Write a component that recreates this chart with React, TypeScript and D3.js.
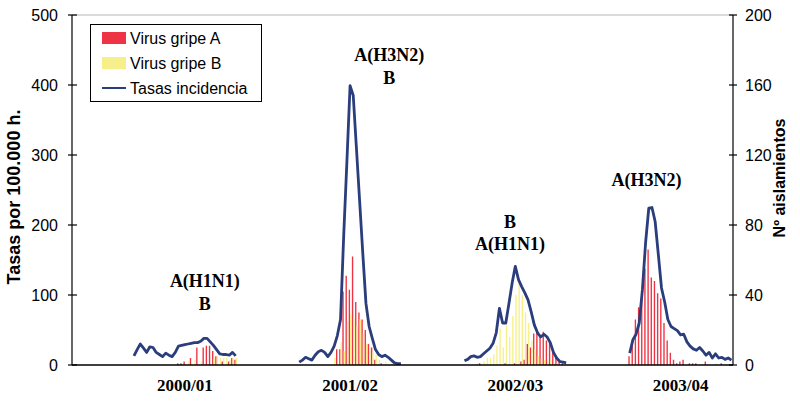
import * as d3 from 'd3';

// flu seasons, weekly data from week 40 to week 20
const seasons = ['2000/01', '2001/02', '2002/03', '2003/04'];
const seasonWeeks = [40, 41, 42, 43, 44, 45, 46, 47, 48, 49, 50, 51, 52, 1, 2, 3, 4, 5, 6, 7, 8, 9, 10, 11, 12, 13, 14, 15, 16, 17, 18, 19, 20];
const offWeeks = [21, 22, 23, 24, 25, 26, 27, 28, 29, 30, 31, 32, 33, 34, 35, 36, 37, 38, 39];

// Tasas por 100.000 h.
const rate0001 = [13, 22, 30, 24, 18, 26, 25, 18, 15, 12, 17, 14, 12, 18, 27, 28, 29, 30, 31, 32, 32, 34, 38, 38, 33, 28, 22, 16, 15, 15, 14, 18, 13];
const rate0102 = [4, 7, 11, 9, 7, 14, 19, 21, 18, 12, 18, 27, 42, 65, 185, 290, 399, 385, 310, 235, 160, 88, 55, 38, 22, 15, 12, 14, 11, 7, 3, 2, 2];
const rate0203 = [6, 8, 12, 13, 11, 12, 16, 20, 24, 31, 46, 81, 60, 60, 88, 117, 141, 122, 112, 103, 93, 76, 57, 46, 40, 44, 40, 32, 18, 10, 5, 4, 3];
const rate0304 = [17, 36, 44, 60, 108, 175, 224, 225, 205, 158, 110, 90, 65, 55, 52, 49, 43, 44, 33, 27, 23, 21, 25, 20, 14, 18, 10, 16, 10, 11, 8, 10, 7];

// Nº aislamientos, virus gripe A
const virA0001 = [0, 0, 0, 0, 0, 0, 0, 0, 0, 0, 0, 0, 0, 0, 1, 1, 2, 0, 4, 0, 10, 0, 10, 11, 11, 8, 5, 0, 2, 0, 2, 4, 3];
const virA0102 = [0, 0, 0, 0, 0, 0, 0, 0, 0, 0, 0, 0, 9, 9, 42, 51, 43, 62, 36, 30, 26, 20, 12, 10, 3, 0, 1, 0, 0, 0, 0, 0, 0];
const virA0203 = [0, 0, 0, 0, 0, 1, 0, 0, 0, 0, 0, 0, 0, 1, 0, 0, 1, 0, 2, 3, 12, 10, 18, 19, 16, 19, 14, 13, 7, 4, 2, 1, 0];
const virA0304 = [5, 14, 26, 33, 42, 55, 66, 50, 48, 41, 38, 24, 14, 7, 3, 1, 2, 3, 0, 1, 1, 1, 0, 0, 2, 0, 0, 0, 0, 1, 0, 0, 0];

// Nº aislamientos, virus gripe B
const virB0001 = [0, 0, 0, 0, 0, 0, 0, 0, 0, 0, 0, 0, 0, 0, 0, 0, 0, 2, 0, 3, 0, 2, 0, 0, 0, 4, 5, 4, 4, 4, 3, 4, 4];
const virB0102 = [0, 0, 0, 0, 0, 0, 0, 0, 0, 0, 0, 4, 0, 13, 8, 25, 29, 27, 22, 26, 18, 12, 10, 7, 6, 3, 0, 2, 0, 3, 0, 0, 0];
const virB0203 = [0, 0, 0, 0, 1, 0, 2, 4, 4, 6, 11, 21, 10, 23, 16, 28, 40, 47, 40, 30, 24, 14, 9, 5, 4, 3, 2, 3, 1, 1, 0, 0, 0];
const virB0304 = [0, 0, 0, 0, 0, 0, 0, 0, 0, 0, 0, 0, 0, 0, 0, 0, 0, 0, 0, 0, 0, 0, 0, 0, 0, 0, 0, 1, 0, 0, 0, 0, 0];

const rates = [rate0001, rate0102, rate0203, rate0304];
const virusA = [virA0001, virA0102, virA0203, virA0304];
const virusB = [virB0001, virB0102, virB0203, virB0304];

// circulating strains written over each epidemic
const strains = [['A(H1N1)', 'B'], ['A(H3N2)', 'B'], ['B', 'A(H1N1)'], ['A(H3N2)']];
const strainWeek = [10, 16, 2, 45];
const strainTop = [111, 434, 196, 256];

const legendLabels = ['Virus gripe A', 'Virus gripe B', 'Tasas incidencia'];

const W = 800, H = 404;
const left = 72, right = 733, top = 15, bottom = 365;
const RED = '#ee3344';
const YELLOW = '#f7f08a';
const NAVY = '#2a3d7c';
const SANS = 'Arial, "Liberation Sans", sans-serif';
const SERIF = '"Times New Roman", "Liberation Serif", serif';

const key = (si: number, w: number) => `${si}:${w}`;

const App = () => {
    const categories = seasons.flatMap((_, si) => offWeeks.concat(seasonWeeks).map(w => key(si, w)));

    const x = d3.scaleBand<string>().domain(categories).range([left, right]).paddingInner(0.14).paddingOuter(0.07);
    const xs = d3.scaleBand<string>().domain(['A', 'B']).range([0, x.bandwidth()]);
    const yL = d3.scaleLinear().domain([0, 500]).range([bottom, top]);
    const yR = d3.scaleLinear().domain([0, 200]).range([bottom, top]);
    const cx = (si: number, w: number) => (x(key(si, w)) ?? 0) + x.bandwidth() / 2;

    const lines = rates.map((r, si) =>
        d3.line<number>()
            .x((_, i) => cx(si, seasonWeeks[i]))
            .y(d => yL(d))(r) || ''
    );

    const bars = seasons.flatMap((_, si) =>
        seasonWeeks.flatMap((w, i) => {
            const x0 = x(key(si, w)) ?? 0;
            const out = [];
            if (virusA[si][i] > 0) out.push(
                <rect key={`a${si}-${w}`} x={x0 + (xs('A') ?? 0)} width={xs.bandwidth()}
                    y={yR(virusA[si][i])} height={bottom - yR(virusA[si][i])} fill={RED} />
            );
            if (virusB[si][i] > 0) out.push(
                <rect key={`b${si}-${w}`} x={x0 + (xs('B') ?? 0)} width={xs.bandwidth()}
                    y={yR(virusB[si][i])} height={bottom - yR(virusB[si][i])} fill={YELLOW} />
            );
            return out;
        })
    );

    return (
        <div style={{ position: 'fixed', left: 0, top: 0 }}>
            <svg width={W} height={H} style={{ display: 'block', background: '#fff' }}>
                {/* plot frame */}
                <line x1={left} x2={right} y1={top} y2={top} stroke="#b8b8b8" strokeWidth={1} />

                {bars}

                {lines.map((d, si) => (
                    <path key={si} d={d} fill="none" stroke={NAVY} strokeWidth={2.8} strokeLinejoin="round" />
                ))}

                {/* axes */}
                <line x1={left} x2={right} y1={bottom} y2={bottom} stroke="#000" strokeWidth={1.4} />
                <line x1={left} x2={left} y1={top} y2={bottom} stroke="#000" strokeWidth={1.2} />
                <line x1={right} x2={right} y1={top} y2={bottom} stroke="#000" strokeWidth={1.2} />

                {yL.ticks(5).map(t => (
                    <g key={`l${t}`} transform={`translate(0, ${yL(t)})`}>
                        <line x1={left - 4} x2={left + 5} stroke="#000" strokeWidth={1.2} />
                        <text x={left - 14} dy="0.36em" textAnchor="end" style={{ font: `16px ${SANS}` }}>{t}</text>
                    </g>
                ))}
                {d3.range(0, 201, 40).map(t => (
                    <g key={`r${t}`} transform={`translate(0, ${yR(t)})`}>
                        <line x1={right - 4} x2={right + 4} stroke="#000" strokeWidth={1.2} />
                        <text x={right + 12} dy="0.36em" textAnchor="start" style={{ font: `16px ${SANS}` }}>{t}</text>
                    </g>
                ))}

                {/* season labels */}
                {seasons.map((s, si) => (
                    <text key={s} x={cx(si, 4)} y={391} textAnchor="middle" style={{ font: `bold 17px ${SERIF}` }}>{s}</text>
                ))}

                {/* strain annotations */}
                {strains.map((ls, si) => ls.map((l, li) => (
                    <text key={`${si}-${li}`} x={cx(si, strainWeek[si]) + 1} y={yL(strainTop[si]) + li * 22.5}
                        textAnchor="middle" style={{ font: `bold 18px ${SERIF}` }}>{l}</text>
                )))}

                {/* axis titles */}
                <text transform={`translate(20, 197) rotate(-90)`} textAnchor="middle" style={{ font: `bold 18px ${SANS}` }}>
                    Tasas por 100.000 h.
                </text>
                <text transform={`translate(785, 178) rotate(-90)`} textAnchor="middle" style={{ font: `bold 16px ${SANS}` }}>
                    Nº aislamientos
                </text>

                {/* legend */}
                <g>
                    <rect x={90.5} y={24.5} width={171} height={77} fill="#fff" stroke="#000" strokeWidth={1} />
                    <rect x={102} y={32} width={24} height={12} fill={RED} />
                    <rect x={102} y={57} width={24} height={12} fill={YELLOW} />
                    <line x1={102} x2={126} y1={88} y2={88} stroke={NAVY} strokeWidth={2} />
                    {legendLabels.map((l, i) => (
                        <text key={l} x={130} y={38 + i * 25} dy="0.36em" style={{ font: `16px ${SANS}` }}>{l}</text>
                    ))}
                </g>
            </svg>
        </div>
    );
};

export default App;
